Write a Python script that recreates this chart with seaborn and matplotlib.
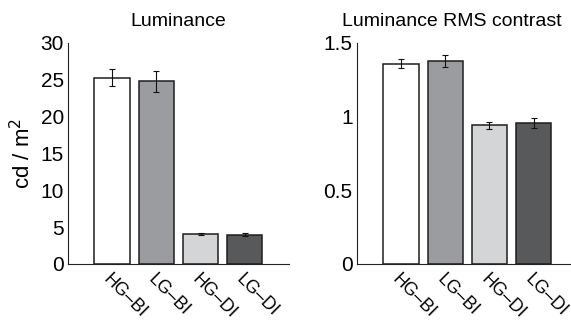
import matplotlib
matplotlib.use("Agg")
import matplotlib.pyplot as plt
import seaborn as sns
import pandas as pd

conditions = ["HG–BI", "LG–BI", "HG–DI", "LG–DI"]
bar_colors = ["#ffffff", "#9b9c9f", "#d4d5d7", "#58595b"]

lum_mean = [25.3, 24.8, 4.1, 3.95]
lum_err = [1.1, 1.45, 0.15, 0.2]

rms_mean = [1.36, 1.38, 0.94, 0.955]
rms_err = [0.03, 0.04, 0.025, 0.035]

sns.set_style("white")
plt.rcParams["font.family"] = ["Liberation Sans", "DejaVu Sans"]
plt.rcParams["xtick.direction"] = "in"
plt.rcParams["ytick.direction"] = "in"
plt.rcParams["text.color"] = "black"
plt.rcParams["xtick.color"] = "black"
plt.rcParams["ytick.color"] = "black"
plt.rcParams["axes.labelcolor"] = "black"

fig = plt.figure(figsize=(5.71, 3.23), dpi=100)
ax1 = fig.add_axes([0.119, 0.183, 0.387, 0.684])
ax2 = fig.add_axes([0.625, 0.183, 0.387, 0.684])


def panel(ax, means, errs, ylim, yticks, yticklabels, title):
    df = pd.DataFrame({"cond": conditions, "val": means})
    sns.barplot(data=df, x="cond", y="val", hue="cond", palette=bar_colors,
                order=conditions, hue_order=conditions, legend=False,
                errorbar=None, width=0.8, edgecolor="#1e1e1e", linewidth=1.1,
                ax=ax)
    ax.errorbar(range(len(conditions)), means, yerr=errs, fmt="none",
                ecolor="#111111", elinewidth=0.8, capsize=2, capthick=0.8)
    ax.set_xlim(-1, 4)
    ax.set_ylim(*ylim)
    ax.set_yticks(yticks)
    ax.set_yticklabels(yticklabels, fontsize=15)
    ax.set_xticks(range(len(conditions)))
    ax.set_xticklabels(conditions, rotation=-45, ha="left", va="top",
                       rotation_mode="anchor", fontsize=13)
    ax.tick_params(axis="x", length=3, width=0.6, pad=5)
    ax.tick_params(axis="y", length=3, width=0.6, pad=3)
    ax.set_xlabel("")
    ax.set_ylabel("")
    for s in ["top", "right"]:
        ax.spines[s].set_visible(False)
    for s in ["left", "bottom"]:
        ax.spines[s].set_linewidth(0.8)
        ax.spines[s].set_color("#222222")
    ax.set_title(title, fontsize=14, pad=12)


panel(ax1, lum_mean, lum_err, (0, 30), [0, 5, 10, 15, 20, 25, 30],
      ["0", "5", "10", "15", "20", "25", "30"], "Luminance")
ax1.set_ylabel("cd / m$^2$", fontsize=16, labelpad=4)

panel(ax2, rms_mean, rms_err, (0, 1.5), [0, 0.5, 1, 1.5],
      ["0", "0.5", "1", "1.5"], "Luminance RMS contrast")
ax2.title.set_position((0.43, 1.0))

fig.savefig("out.png", dpi=100)
